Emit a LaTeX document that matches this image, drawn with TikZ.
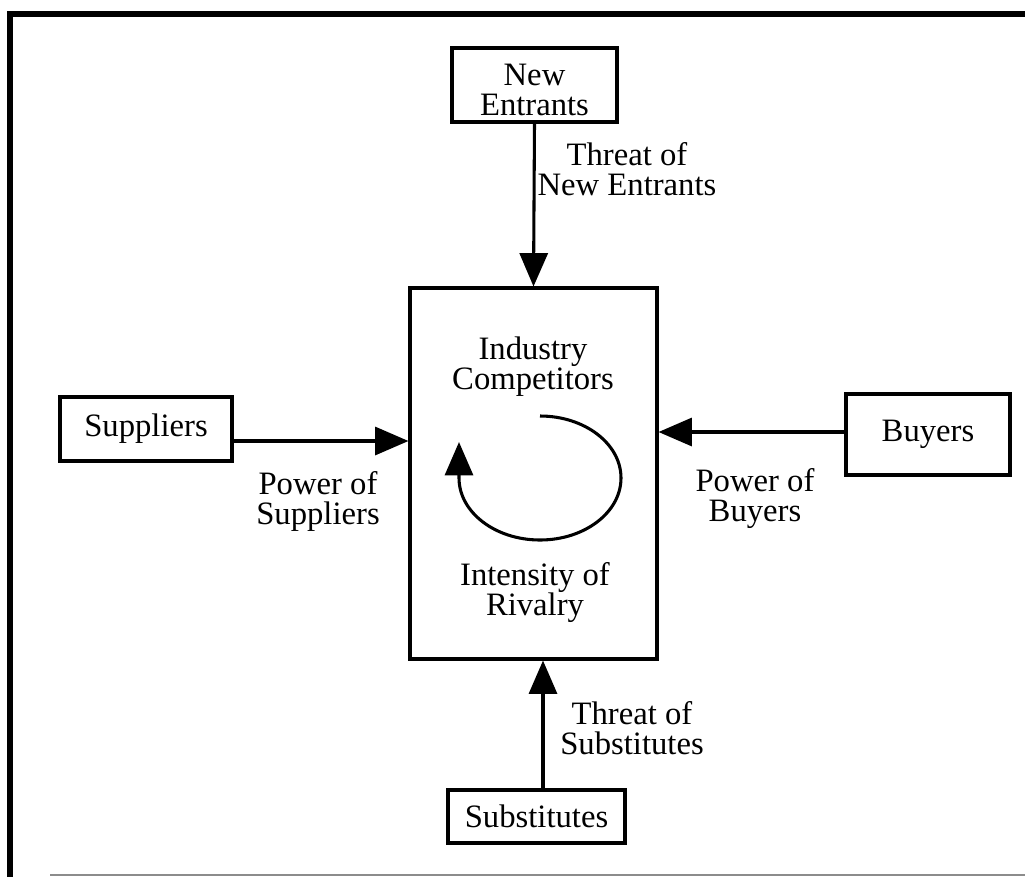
\documentclass[tikz,border=0pt]{standalone}
\usepackage{fontspec}
\setmainfont{Liberation Serif}
\usetikzlibrary{arrows.meta}

\tikzset{
  box/.style={draw=black, line width=2.3pt, inner sep=0pt, align=center},
  lbl/.style={align=center, inner sep=0pt},
  arr/.style={line width=2.3pt, -{Triangle[length=25pt,width=21pt]}},
  frameline/.style={line width=3.8pt, line cap=rect},
}

\begin{document}
\begin{tikzpicture}[x=0.75pt, y=-0.75pt,
  every node/.style={font=\fontsize{24.5}{22.5}\selectfont}]
  \useasboundingbox (0,0) rectangle (1025,876);

  % outer frame
  \draw[frameline] (10,876) -- (10,14) -- (1025,14);
  \draw[line width=1.2pt, black!45] (50,875) -- (1025,875);

  % the five forces
  \node[box, minimum width=123.75pt, minimum height=55.5pt] (ne) at (534.5,85) {};
  \node[lbl] (netxt) at (534.5,90) {New\\Entrants};
  \node[box, minimum width=185.25pt, minimum height=278.25pt] (ic) at (533.5,473.5) {};
  \node[box, minimum width=129pt, minimum height=48pt] (sup) at (146,429) {Suppliers};
  \node[box, minimum width=123pt, minimum height=60.75pt] (buy) at (928,434.5) {Buyers};
  \node[box, minimum width=132.75pt, minimum height=39.75pt] (sub) at (536.5,816.5) {Substitutes};

  % texts inside the central box
  \node[lbl] (ictop) at (533,367) {Industry\\Competitors};
  \node[lbl] (icbot) at (535,593) {Intensity of\\Rivalry};

  % connector labels
  \node[lbl] (lne) at (627,169) {Threat of\\New Entrants};
  \node[lbl] (lsup) at (318,501) {Power of\\Suppliers};
  \node[lbl] (lbuy) at (755,499) {Power of\\Buyers};
  \node[lbl] (lsub) at (632,728) {Threat of\\Substitutes};

  % connectors
  \draw[arr] (ne.south) -- (ic.north);
  \draw[arr] (sup.east |- 0,441) -- (ic.west |- 0,441);
  \draw[arr] (buy.west |- 0,432) -- (ic.east |- 0,432);
  \draw[arr] (sub.north -| 543,0) -- (ic.south -| 543,0);

  % rivalry cycle
  \draw[arr] (540,416) arc[start angle=-90, end angle=180, x radius=81, y radius=62] -- ++(0,-36);
\end{tikzpicture}
\end{document}
